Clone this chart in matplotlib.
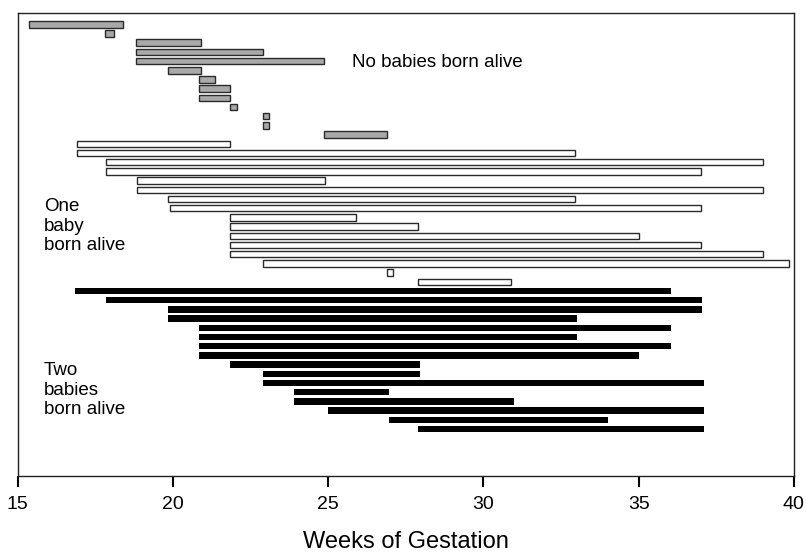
import numpy as np
import matplotlib.pyplot as plt

# weeks of gestation, start and end of each pregnancy line
grey_start = [15.35, 17.8, 18.8, 18.8, 18.8, 19.85, 20.85, 20.85, 20.85, 21.85, 22.9, 22.9, 24.85]
grey_end = [18.4, 18.1, 20.9, 22.9, 24.85, 20.9, 21.35, 21.85, 21.85, 22.05, 23.1, 23.1, 26.9]

white_start = [16.9, 16.9, 17.85, 17.85, 18.85, 18.85, 19.85, 19.9,
               21.85, 21.85, 21.85, 21.85, 21.85, 22.9, 26.9, 27.9]
white_end = [21.85, 32.95, 39.0, 37.0, 24.9, 39.0, 32.95, 37.0,
             25.9, 27.9, 35.0, 37.0, 39.0, 39.85, 27.1, 30.9]

black_start = [16.85, 17.85, 19.85, 19.85, 20.85, 20.85, 20.85, 20.85,
               21.85, 22.9, 22.9, 23.9, 23.9, 25.0, 26.95, 27.9]
black_end = [36.05, 37.05, 37.05, 33.0, 36.05, 33.0, 36.05, 35.0,
             27.95, 27.95, 37.1, 26.95, 31.0, 37.1, 34.0, 37.1]

plt.rcParams['font.family'] = ['Liberation Sans', 'DejaVu Sans']

fig = plt.figure(figsize=(8.06, 5.53), dpi=100)
ax = fig.add_axes([0.022, 0.139, 0.963, 0.837])

groups = [
    (grey_start, grey_end, '#a9a9a9', '#2a2a2a', 1.0),
    (white_start, white_end, 'white', '#2a2a2a', 1.0),
    (black_start, black_end, 'black', 'black', 0.0),
]
row = 0
for starts, ends, fc, ec, lw in groups:
    s = np.array(starts)
    e = np.array(ends)
    y = np.arange(row, row + len(s))
    ax.barh(y, e - s, left=s, height=0.7, color=fc, edgecolor=ec, linewidth=lw)
    row += len(s)

ax.text(25.77, 4.1, 'No babies born alive', fontsize=13.5, va='center', ha='left')
ax.text(15.85, 21.96, 'One\nbaby\nborn alive', fontsize=13.5, va='center', ha='left',
        linespacing=1.2)
ax.text(15.85, 39.8, 'Two\nbabies\nborn alive', fontsize=13.5, va='center', ha='left',
        linespacing=1.2)

ax.set_xlim(15, 40)
ax.set_ylim(49.13, -1.2)
ax.set_xticks([15, 20, 25, 30, 35, 40])
ax.set_yticks([])
ax.tick_params(axis='x', direction='out', length=8, width=1.5, labelsize=14, pad=6)
for sp in ax.spines.values():
    sp.set_linewidth(1)
    sp.set_color('#222222')
ax.set_xlabel('Weeks of Gestation', fontsize=17, labelpad=13)

fig.savefig('out.png', dpi=100)
